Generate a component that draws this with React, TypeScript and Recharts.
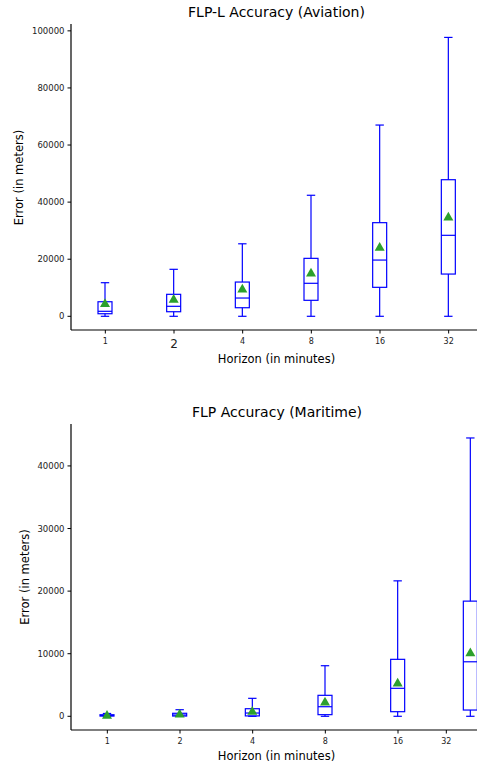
import { Bar, ComposedChart, XAxis, YAxis } from 'recharts';

const HORIZONS = ['1', '2', '4', '8', '16', '32'];
const BOX_POS = [1, 2, 3, 4, 5, 6];

// aviation (FLP-L)
const AVIATION_LOW = [0, 0, 0, 0, 0, 0];
const AVIATION_Q1 = [900, 1600, 3000, 5600, 10150, 14800];
const AVIATION_MEDIAN = [1750, 3500, 6400, 11560, 19700, 28370];
const AVIATION_Q3 = [5100, 7700, 12000, 20300, 32800, 47850];
const AVIATION_HIGH = [11770, 16460, 25400, 42400, 67000, 97700];
const AVIATION_MEAN = [4550, 6050, 9650, 15300, 24300, 34900];
const AVIATION_Y_TICKS = [0, 20000, 40000, 60000, 80000, 100000];
const AVIATION_X_TICKS = [1, 2, 3, 4, 5, 6];

// maritime (FLP)
const MARITIME_LOW = [0, 0, 0, 0, 0, 0];
const MARITIME_Q1 = [40, 40, 60, 260, 735, 1000];
const MARITIME_MEDIAN = [120, 200, 520, 1530, 4470, 8710];
const MARITIME_Q3 = [250, 480, 1210, 3350, 9100, 18400];
const MARITIME_HIGH = [450, 1050, 2870, 8080, 21640, 44470];
const MARITIME_MEAN = [200, 420, 850, 2330, 5360, 10210];
const MARITIME_Y_TICKS = [0, 10000, 20000, 30000, 40000];
const MARITIME_X_TICKS = [1, 2, 3, 4, 5, 5.665];

const FONT = 'DejaVu Sans';
const BLUE = '#0000ff';
const GREEN = '#2ca02c';

type Row = { pos: number; range: [number, number]; q1: number; med: number; q3: number; mean: number };

function buildRows(low: number[], q1: number[], med: number[], q3: number[], high: number[], mean: number[]): Row[] {
  return BOX_POS.map((pos, i) => ({
    pos,
    range: [low[i], high[i]],
    q1: q1[i],
    med: med[i],
    q3: q3[i],
    mean: mean[i],
  }));
}

const aviationRows = buildRows(AVIATION_LOW, AVIATION_Q1, AVIATION_MEDIAN, AVIATION_Q3, AVIATION_HIGH, AVIATION_MEAN);
const maritimeRows = buildRows(MARITIME_LOW, MARITIME_Q1, MARITIME_MEDIAN, MARITIME_Q3, MARITIME_HIGH, MARITIME_MEAN);

function BoxShape(props: any) {
  const { x, y, width, height, payload } = props;
  if (!payload) return null;
  const top = Math.min(y, y + height);
  const bottom = Math.max(y, y + height);
  const [lo, hi] = payload.range;
  const py = (v: number) => bottom - ((v - lo) / (hi - lo)) * (bottom - top);
  const cx = x + width / 2;
  const cap = width * 0.3;
  const yq1 = py(payload.q1);
  const yq3 = py(payload.q3);
  const ym = py(payload.med);
  const ymean = py(payload.mean);
  return (
    <g>
      <line x1={cx} x2={cx} y1={top} y2={yq3} stroke={BLUE} strokeWidth={1.2} />
      <line x1={cx} x2={cx} y1={yq1} y2={bottom} stroke={BLUE} strokeWidth={1.2} />
      <line x1={cx - cap} x2={cx + cap} y1={top} y2={top} stroke={BLUE} strokeWidth={1.2} />
      <line x1={cx - cap} x2={cx + cap} y1={bottom} y2={bottom} stroke={BLUE} strokeWidth={1.2} />
      <rect x={x} y={yq3} width={width} height={Math.max(yq1 - yq3, 0.5)} fill="none" stroke={BLUE} strokeWidth={1.2} />
      <line x1={x} x2={x + width} y1={ym} y2={ym} stroke={BLUE} strokeWidth={1.2} />
      <polygon
        points={`${cx},${ymean - 5} ${cx - 5},${ymean + 3.8} ${cx + 5},${ymean + 3.8}`}
        fill={GREEN}
      />
    </g>
  );
}

function makeTick(bigLabel: string | null) {
  return (props: any) => {
    const { x, y, index } = props;
    const label = HORIZONS[index];
    const big = label === bigLabel;
    return (
      <text x={x} y={y + (big ? 12 : 8.5)} textAnchor="middle" fontSize={big ? 12 : 8} fontFamily={FONT} fill="#222">
        {label}
      </text>
    );
  };
}

function BoxPanel({
  rows,
  yTicks,
  yDomain,
  xTicks,
  width,
  bigLabel,
}: {
  rows: Row[];
  yTicks: number[];
  yDomain: [number, number];
  xTicks: number[];
  width: number;
  bigLabel: string | null;
}) {
  return (
    <ComposedChart width={width} height={380} data={rows} margin={{ top: 24, right: 7, bottom: 0, left: 0 }}>
      <XAxis
        dataKey="pos"
        type="number"
        domain={[0.5, 6.5]}
        ticks={xTicks}
        height={50}
        tickSize={3.5}
        tickMargin={2}
        tick={makeTick(bigLabel)}
        axisLine={{ stroke: '#000', strokeWidth: 1.2 }}
        tickLine={{ stroke: '#000' }}
        interval={0}
      />
      <XAxis
        xAxisId="top"
        orientation="top"
        type="number"
        domain={[0.5, 6.5]}
        height={0}
        tick={false}
        tickLine={false}
        axisLine={{ stroke: '#808080', strokeWidth: 1.5 }}
      />
      <YAxis
        type="number"
        domain={yDomain}
        ticks={yTicks}
        width={71}
        tickSize={3.5}
        tickMargin={3}
        interval={0}
        tick={{ fontSize: 8.5, fontFamily: FONT, fill: '#222' }}
        axisLine={{ stroke: '#000', strokeWidth: 1.2 }}
        tickLine={{ stroke: '#000' }}
      />
      <Bar dataKey="range" barSize={14} isAnimationActive={false} shape={(p: any) => <BoxShape {...p} />} />
    </ComposedChart>
  );
}

export default function App() {
  return (
    <div
      style={{
        position: 'absolute',
        left: 0,
        top: 0,
        width: 477,
        height: 767,
        overflow: 'hidden',
        background: '#fff',
        fontFamily: FONT,
      }}
    >
      <div style={{ position: 'absolute', left: 0, top: 0 }}>
        <BoxPanel rows={aviationRows} yTicks={AVIATION_Y_TICKS} yDomain={[-4800, 102400]} xTicks={AVIATION_X_TICKS} width={490} bigLabel="2" />
      </div>
      <div style={{ position: 'absolute', left: 0, top: 400 }}>
        <BoxPanel rows={maritimeRows} yTicks={MARITIME_Y_TICKS} yDomain={[-2190, 46700]} xTicks={MARITIME_X_TICKS} width={514} bigLabel={null} />
      </div>
      <svg width={477} height={767} style={{ position: 'absolute', left: 0, top: 0, pointerEvents: 'none' }}>
        <g fontFamily={FONT} fill="#000" textAnchor="middle">
          <text x={276.5} y={17} fontSize={14}>FLP-L Accuracy (Aviation)</text>
          <text x={276.5} y={362.7} fontSize={11.5}>Horizon (in minutes)</text>
          <text x={0} y={0} fontSize={11.5} transform="translate(23,177.5) rotate(-90)">Error (in meters)</text>
          <text x={277} y={417} fontSize={14}>FLP Accuracy (Maritime)</text>
          <text x={276.5} y={760} fontSize={11.5}>Horizon (in minutes)</text>
          <text x={0} y={0} fontSize={11.5} transform="translate(28.5,577) rotate(-90)">Error (in meters)</text>
        </g>
      </svg>
    </div>
  );
}
